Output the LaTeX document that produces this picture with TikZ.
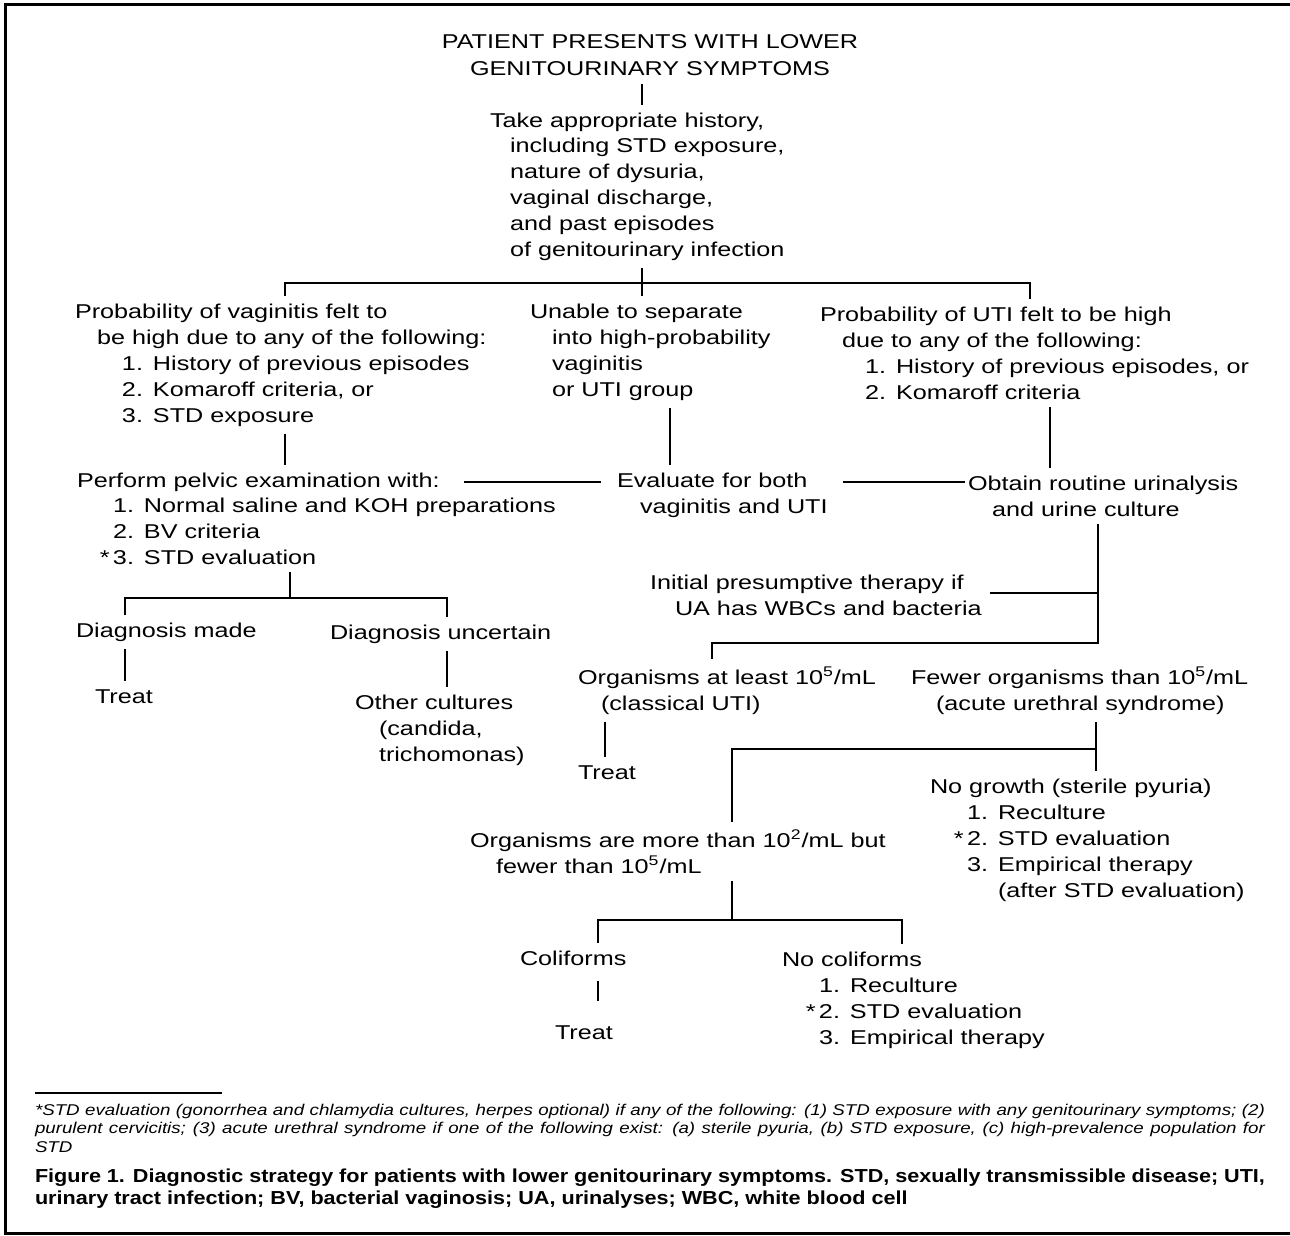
\documentclass[tikz,border=0pt]{standalone}
\usepackage{fontspec}
\setmainfont{Liberation Sans}[FakeStretch=1.26]
\newfontfamily\notefont{Liberation Sans}[FakeStretch=1.2]
\newfontfamily\capfont{Liberation Sans}[FakeStretch=1.15]

\newcommand{\lnum}[2]{\makebox[15.5pt][l]{#1}#2}
\newcommand{\starnum}[2]{\makebox[15.5pt][l]{\llap{*\,}#1}#2}

\tikzset{
    txt/.style={inner sep=0pt, outer sep=4pt, align=left, anchor=base west,
        font=\fontsize{10pt}{12.9pt}\selectfont},
    link/.style={line width=0.9pt},
    frame/.style={line width=1.5pt},
}

\begin{document}
\begin{tikzpicture}[x=0.5pt, y=-0.5pt]
    \useasboundingbox (0,0) rectangle (1290,1236);

    % Marco
        \draw[frame] (1290,5) -- (5,5) -- (5,1233) -- (1290,1233);

    % Inicio (posicion = linea base de la ultima linea)
        \node[txt, align=center, anchor=base, font=\fontsize{10pt}{13.5pt}\selectfont] (title) at (650,76)
            {PATIENT PRESENTS WITH LOWER\\GENITOURINARY SYMPTOMS};

        \node[txt] (history) at (482,256) {Take appropriate history,\\
            \hspace*{10pt}including STD exposure,\\
            \hspace*{10pt}nature of dysuria,\\
            \hspace*{10pt}vaginal discharge,\\
            \hspace*{10pt}and past episodes\\
            \hspace*{10pt}of genitourinary infection};

    % Tres ramas
        \node[txt] (vaginitis) at (67,422) {Probability of vaginitis felt to\\
            \hspace*{11pt}be high due to any of the following:\\
            \hspace*{23.5pt}\lnum{1.}{History of previous episodes}\\
            \hspace*{23.5pt}\lnum{2.}{Komaroff criteria, or}\\
            \hspace*{23.5pt}\lnum{3.}{STD exposure}};

        \node[txt] (unable) at (522,396) {Unable to separate\\
            \hspace*{11pt}into high-probability\\
            \hspace*{11pt}vaginitis\\
            \hspace*{11pt}or UTI group};

        \node[txt] (utiHigh) at (812,399) {Probability of UTI felt to be high\\
            \hspace*{11pt}due to any of the following:\\
            \hspace*{22.5pt}\lnum{1.}{History of previous episodes, or}\\
            \hspace*{22.5pt}\lnum{2.}{Komaroff criteria}};

    % Segunda fila
        \node[txt] (pelvic) at (69,487) {Perform pelvic examination with:};
        \node[txt] (pelvicList) at (69,564) {\hspace*{18pt}\lnum{1.}{Normal saline and KOH preparations}\\
            \hspace*{18pt}\lnum{2.}{BV criteria}\\
            \hspace*{18pt}\starnum{3.}{STD evaluation}};

        \node[txt] (evaluate) at (609,513) {Evaluate for both\\
            \hspace*{11.5pt}vaginitis and UTI};

        \node[txt] (urinalysis) at (960,516) {Obtain routine urinalysis\\
            \hspace*{12pt}and urine culture};

    % Vaginitis
        \node[txt] (diagMade) at (68,637) {Diagnosis made};
        \node[txt] (diagUnc) at (322,639) {Diagnosis uncertain};
        \node[txt] (treatA) at (87,703) {Treat};
        \node[txt] (otherCult) at (347,761) {Other cultures\\
            \hspace*{12pt}(candida,\\
            \hspace*{12pt}trichomonas)};

    % UTI
        \node[txt] (presumptive) at (642,615) {Initial presumptive therapy if\\
            \hspace*{12.5pt}UA has WBCs and bacteria};

        \node[txt] (atLeast) at (570,710) {Organisms at least 10\textsuperscript{5}/mL\\
            \hspace*{11.5pt}(classical UTI)};
        \node[txt] (fewer) at (903,710) {Fewer organisms than 10\textsuperscript{5}/mL\\
            \hspace*{12.5pt}(acute urethral syndrome)};

        \node[txt] (treatB) at (570,779) {Treat};

        \node[txt] (noGrowth) at (922,897) {No growth (sterile pyuria)\\
            \hspace*{18.5pt}\lnum{1.}{Reculture}\\
            \hspace*{18.5pt}\starnum{2.}{STD evaluation}\\
            \hspace*{18.5pt}\lnum{3.}{Empirical therapy}\\
            \hspace*{18.5pt}\lnum{}{(after STD evaluation)}};

        \node[txt] (between) at (462,873) {Organisms are more than 10\textsuperscript{2}/mL but\\
            \hspace*{13pt}fewer than 10\textsuperscript{5}/mL};

        \node[txt] (coliforms) at (512,965) {Coliforms};
        \node[txt] (noColi) at (774,1044) {No coliforms\\
            \hspace*{18.5pt}\lnum{1.}{Reculture}\\
            \hspace*{18.5pt}\starnum{2.}{STD evaluation}\\
            \hspace*{18.5pt}\lnum{3.}{Empirical therapy}};
        \node[txt] (treatC) at (547,1039) {Treat};

    % Uniones
        \coordinate (j1) at (642,283);
        \coordinate (j1a) at (285,283);
        \coordinate (j1b) at (1030,283);
        \coordinate (v1) at (670,0);
        \coordinate (v2) at (1050,0);
        \coordinate (j2) at (290,598);
        \coordinate (j2a) at (125,598);
        \coordinate (j2b) at (447,598);
        \coordinate (j3) at (1098,593);
        \coordinate (j4) at (1098,643);
        \coordinate (j4a) at (712,643);
        \coordinate (v3) at (605,0);
        \coordinate (j5) at (1096,749);
        \coordinate (j5a) at (732,749);
        \coordinate (j6) at (732,920);
        \coordinate (j6a) at (598,920);
        \coordinate (j6b) at (902,920);

    % Lineas
        \draw[link] (title.south -| j1) -- (history.north -| j1);
        \draw[link] (history.south -| j1) -- (unable.north -| j1);
        \draw[link] (vaginitis.north -| j1a) -- (j1a) -- (j1b) -- (utiHigh.north -| j1b);

        \draw[link] (vaginitis.south -| j1a) -- (pelvic.north -| j1a);
        \draw[link] (unable.south -| v1) -- (evaluate.north -| v1);
        \draw[link] (utiHigh.south -| v2) -- (urinalysis.north -| v2);

        \draw[link, shorten <=8pt, shorten >=4pt] (pelvic.east) -- (pelvic.east -| evaluate.west);
        \draw[link, shorten <=3.5pt, shorten >=-2.5pt] (evaluate.east |- pelvic.east) -- (urinalysis.west |- pelvic.east);

        \draw[link] (pelvicList.south -| j2) -- (j2);
        \draw[link] (diagMade.north -| j2a) -- (j2a) -- (j2b) -- (diagUnc.north -| j2b);
        \draw[link] (diagMade.south -| j2a) -- (treatA.north -| j2a);
        \draw[link] (diagUnc.south -| j2b) -- (otherCult.north -| j2b);

        \draw[link] (urinalysis.south -| j4) -- (j4) -- (j4a) -- (atLeast.north -| j4a);
        \draw[link] (presumptive.east |- j3) -- (j3);
        \draw[link] (atLeast.south -| v3) -- (treatB.north -| v3);

        \draw[link] (fewer.south -| j5) -- (noGrowth.north -| j5);
        \draw[link] (j5) -- (j5a) -- (between.north -| j5a);

        \draw[link] (between.south -| j6) -- (j6);
        \draw[link] (coliforms.north -| j6a) -- (j6a) -- (j6b) -- (noColi.north -| j6b);
        \draw[link, shorten <=4pt, shorten >=8pt] (coliforms.south -| j6a) -- (treatC.north -| j6a);

    % Nota y leyenda
        \draw[link] (35,1093) -- (222,1093);
        \node[txt, font=\notefont\itshape\fontsize{7.8pt}{9.25pt}\selectfont] (note) at (27,1152)
            {\makebox[615pt][s]{*STD evaluation (gonorrhea and chlamydia cultures, herpes optional) if any of the following: (1) STD exposure with any genitourinary symptoms; (2)}\\
             \makebox[615pt][s]{purulent cervicitis; (3) acute urethral syndrome if one of the following exist: (a) sterile pyuria, (b) STD exposure, (c) high-prevalence population for}\\
             STD};
        \node[txt, font=\capfont\bfseries\fontsize{9.4pt}{11pt}\selectfont] (caption) at (27,1204)
            {\makebox[615pt][s]{Figure 1. Diagnostic strategy for patients with lower genitourinary symptoms. STD, sexually transmissible disease; UTI,}\\
             urinary tract infection; BV, bacterial vaginosis; UA, urinalyses; WBC, white blood cell};

\end{tikzpicture}
\end{document}
